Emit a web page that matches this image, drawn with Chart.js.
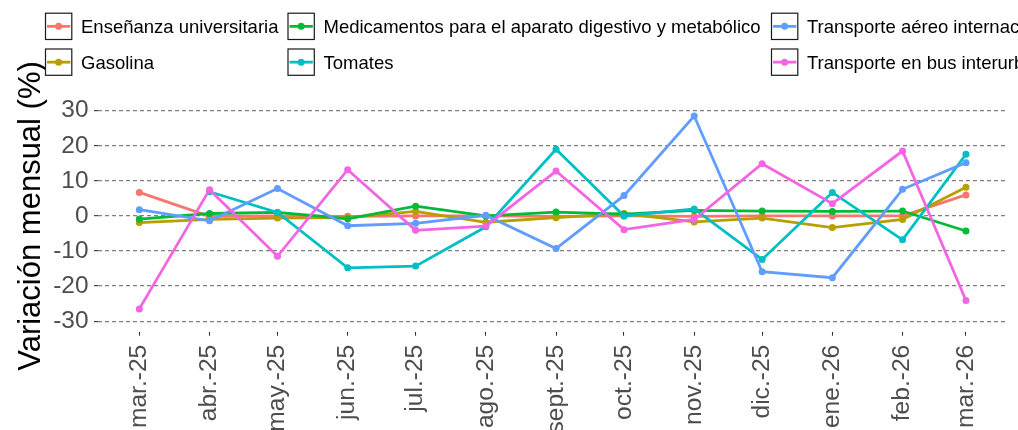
<!DOCTYPE html>
<html lang="es">
<head>
<meta charset="utf-8">
<title>Variación mensual</title>
<script src="https://cdn.jsdelivr.net/npm/chart.js@4.4.1/dist/chart.umd.min.js"></script>
<style>
  html, body { margin: 0; padding: 0; background: #ffffff; }
  #wrap { width: 1018px; height: 430px; position: relative; overflow: hidden; }
</style>
</head>
<body>
<div id="wrap"><canvas id="chartCanvas" width="1018" height="430"></canvas></div>
<script>
// Months on the x axis (first day of each month, the axis is a date axis)
const monthDates = ['2025-03-01', '2025-04-01', '2025-05-01', '2025-06-01', '2025-07-01', '2025-08-01',
    '2025-09-01', '2025-10-01', '2025-11-01', '2025-12-01', '2026-01-01', '2026-02-01', '2026-03-01'];
const monthLabels = ['mar.-25', 'abr.-25', 'may.-25', 'jun.-25', 'jul.-25', 'ago.-25',
    'sept.-25', 'oct.-25', 'nov.-25', 'dic.-25', 'ene.-26', 'feb.-26', 'mar.-26'];

// Monthly variation (%) for each product
const ensenanza    = [6.7, -0.1, 0.0, -0.1, 0.0, 0.0, -0.1, 0.0, -0.1, 0.0, 0.0, 0.0, 6.0];
const gasolina     = [-1.9, -1.0, -0.6, -0.5, 1.3, -1.8, -0.5, 0.7, -1.7, -0.6, -3.3, -1.0, 8.2];
const medicamentos = [-0.9, 0.7, 1.0, -0.8, 2.8, 0.0, 1.1, 0.5, 1.6, 1.4, 1.3, 1.4, -4.3];
const tomates      = [null, 6.9, 1.0, -14.8, -14.3, -3.1, 19.0, 0.0, 2.0, -12.4, 6.7, -6.8, 17.6];
const aereo        = [1.8, -1.4, 7.8, -2.8, -2.1, 0.2, -9.3, 5.8, 28.5, -15.9, -17.6, 7.6, 15.2];
const bus          = [-26.5, 7.5, -11.5, 13.2, -4.1, -2.9, 12.8, -3.9, -1.0, 14.9, 3.5, 18.5, -24.1];

const seriesNames = ['Enseñanza universitaria', 'Gasolina',
    'Medicamentos para el aparato digestivo y metabólico', 'Tomates',
    'Transporte aéreo internacional', 'Transporte en bus interurbano'];
const seriesValues = [ensenanza, gasolina, medicamentos, tomates, aereo, bus];
const seriesColors = ['#F8766D', '#B79F00', '#00BA38', '#00BFC4', '#619CFF', '#F564E3'];

// y axis tick values
const yTicks = [-30, -20, -10, 0, 10, 20, 30];

const fontFamily = "'Liberation Sans', Arial, Helvetica, sans-serif";

// days since the first month, so the x axis spaces months like a date axis
const dayMs = 86400000;
const monthDays = monthDates.map(d => (Date.parse(d) - Date.parse(monthDates[0])) / dayMs);
const daySpan = monthDays[monthDays.length - 1];

const datasets = seriesNames.map((name, i) => ({
    label: name,
    data: monthDays.map((d, j) => ({ x: d, y: seriesValues[i][j] })),
    borderColor: seriesColors[i],
    backgroundColor: seriesColors[i],
    pointBackgroundColor: seriesColors[i],
    pointBorderColor: seriesColors[i],
    borderWidth: 2.8,
    pointRadius: 3.5,
    pointBorderWidth: 0,
    tension: 0,
    spanGaps: false,
    order: -i
}));

// ggplot-like legend drawn at the top of the canvas
const legendPlugin = {
    id: 'ggLegend',
    afterDraw(chart) {
        const ctx = chart.ctx;
        const colX = [45, 287.5, 771];
        const rowY = [12.7, 48.5];
        const box = 27.3;
        ctx.save();
        seriesNames.forEach((name, i) => {
            const bx = colX[Math.floor(i / 2)];
            const by = rowY[i % 2];
            const cy = by + box / 2;
            ctx.fillStyle = '#ffffff';
            ctx.fillRect(bx, by, box, box);
            ctx.strokeStyle = '#1a1a1a';
            ctx.lineWidth = 1.2;
            ctx.strokeRect(bx + 0.5, by + 0.5, box - 1, box - 1);
            ctx.strokeStyle = seriesColors[i];
            ctx.lineWidth = 2.8;
            ctx.beginPath();
            ctx.moveTo(bx + 2, cy);
            ctx.lineTo(bx + box - 2, cy);
            ctx.stroke();
            ctx.fillStyle = seriesColors[i];
            ctx.beginPath();
            ctx.arc(bx + box / 2, cy, 3.5, 0, Math.PI * 2);
            ctx.fill();
            ctx.fillStyle = '#000000';
            ctx.font = '18.5px ' + fontFamily;
            ctx.textAlign = 'left';
            ctx.textBaseline = 'alphabetic';
            ctx.fillText(name, bx + 36, by + 20.6);
        });
        ctx.restore();
    }
};

const chartContext = document.getElementById('chartCanvas').getContext('2d');
const variationChart = new Chart(chartContext, {
    type: 'line',
    data: { datasets: datasets },
    plugins: [legendPlugin],
    options: {
        responsive: false,
        animation: false,
        devicePixelRatio: 1,
        layout: { padding: { top: 100.2, right: 10.7, bottom: 0, left: 0 } },
        plugins: {
            legend: { display: false },
            tooltip: { enabled: false }
        },
        scales: {
            x: {
                type: 'linear',
                min: -0.05 * daySpan,
                max: daySpan * 1.05,
                afterBuildTicks: (scale) => {
                    scale.ticks = monthDays.map(v => ({ value: v }));
                },
                afterFit: (scale) => { scale.height = 98.3; },
                ticks: {
                    autoSkip: false,
                    minRotation: 90,
                    maxRotation: 90,
                    padding: 9,
                    color: '#4D4D4D',
                    font: { size: 24.6, family: fontFamily },
                    callback: (value, index) => monthLabels[index]
                },
                grid: {
                    drawOnChartArea: false,
                    drawTicks: true,
                    tickLength: 4,
                    tickColor: '#333333',
                    tickWidth: 1.1
                },
                border: { display: false }
            },
            y: {
                type: 'linear',
                min: -33,
                max: 33,
                afterBuildTicks: (scale) => {
                    scale.ticks = yTicks.map(v => ({ value: v }));
                },
                afterFit: (scale) => { scale.width = 98; },
                ticks: {
                    padding: 5.5,
                    color: '#4D4D4D',
                    font: { size: 24.4, family: fontFamily }
                },
                grid: {
                    color: '#808080',
                    lineWidth: 1.3,
                    tickLength: 4,
                    tickColor: '#333333',
                    tickWidth: 1.1
                },
                border: { display: false, dash: [4, 3] },
                title: {
                    display: true,
                    text: 'Variación mensual (%)',
                    color: '#000000',
                    font: { size: 31, family: fontFamily },
                    padding: { top: 13, bottom: 0 }
                }
            }
        }
    }
});
</script>
</body>
</html>
